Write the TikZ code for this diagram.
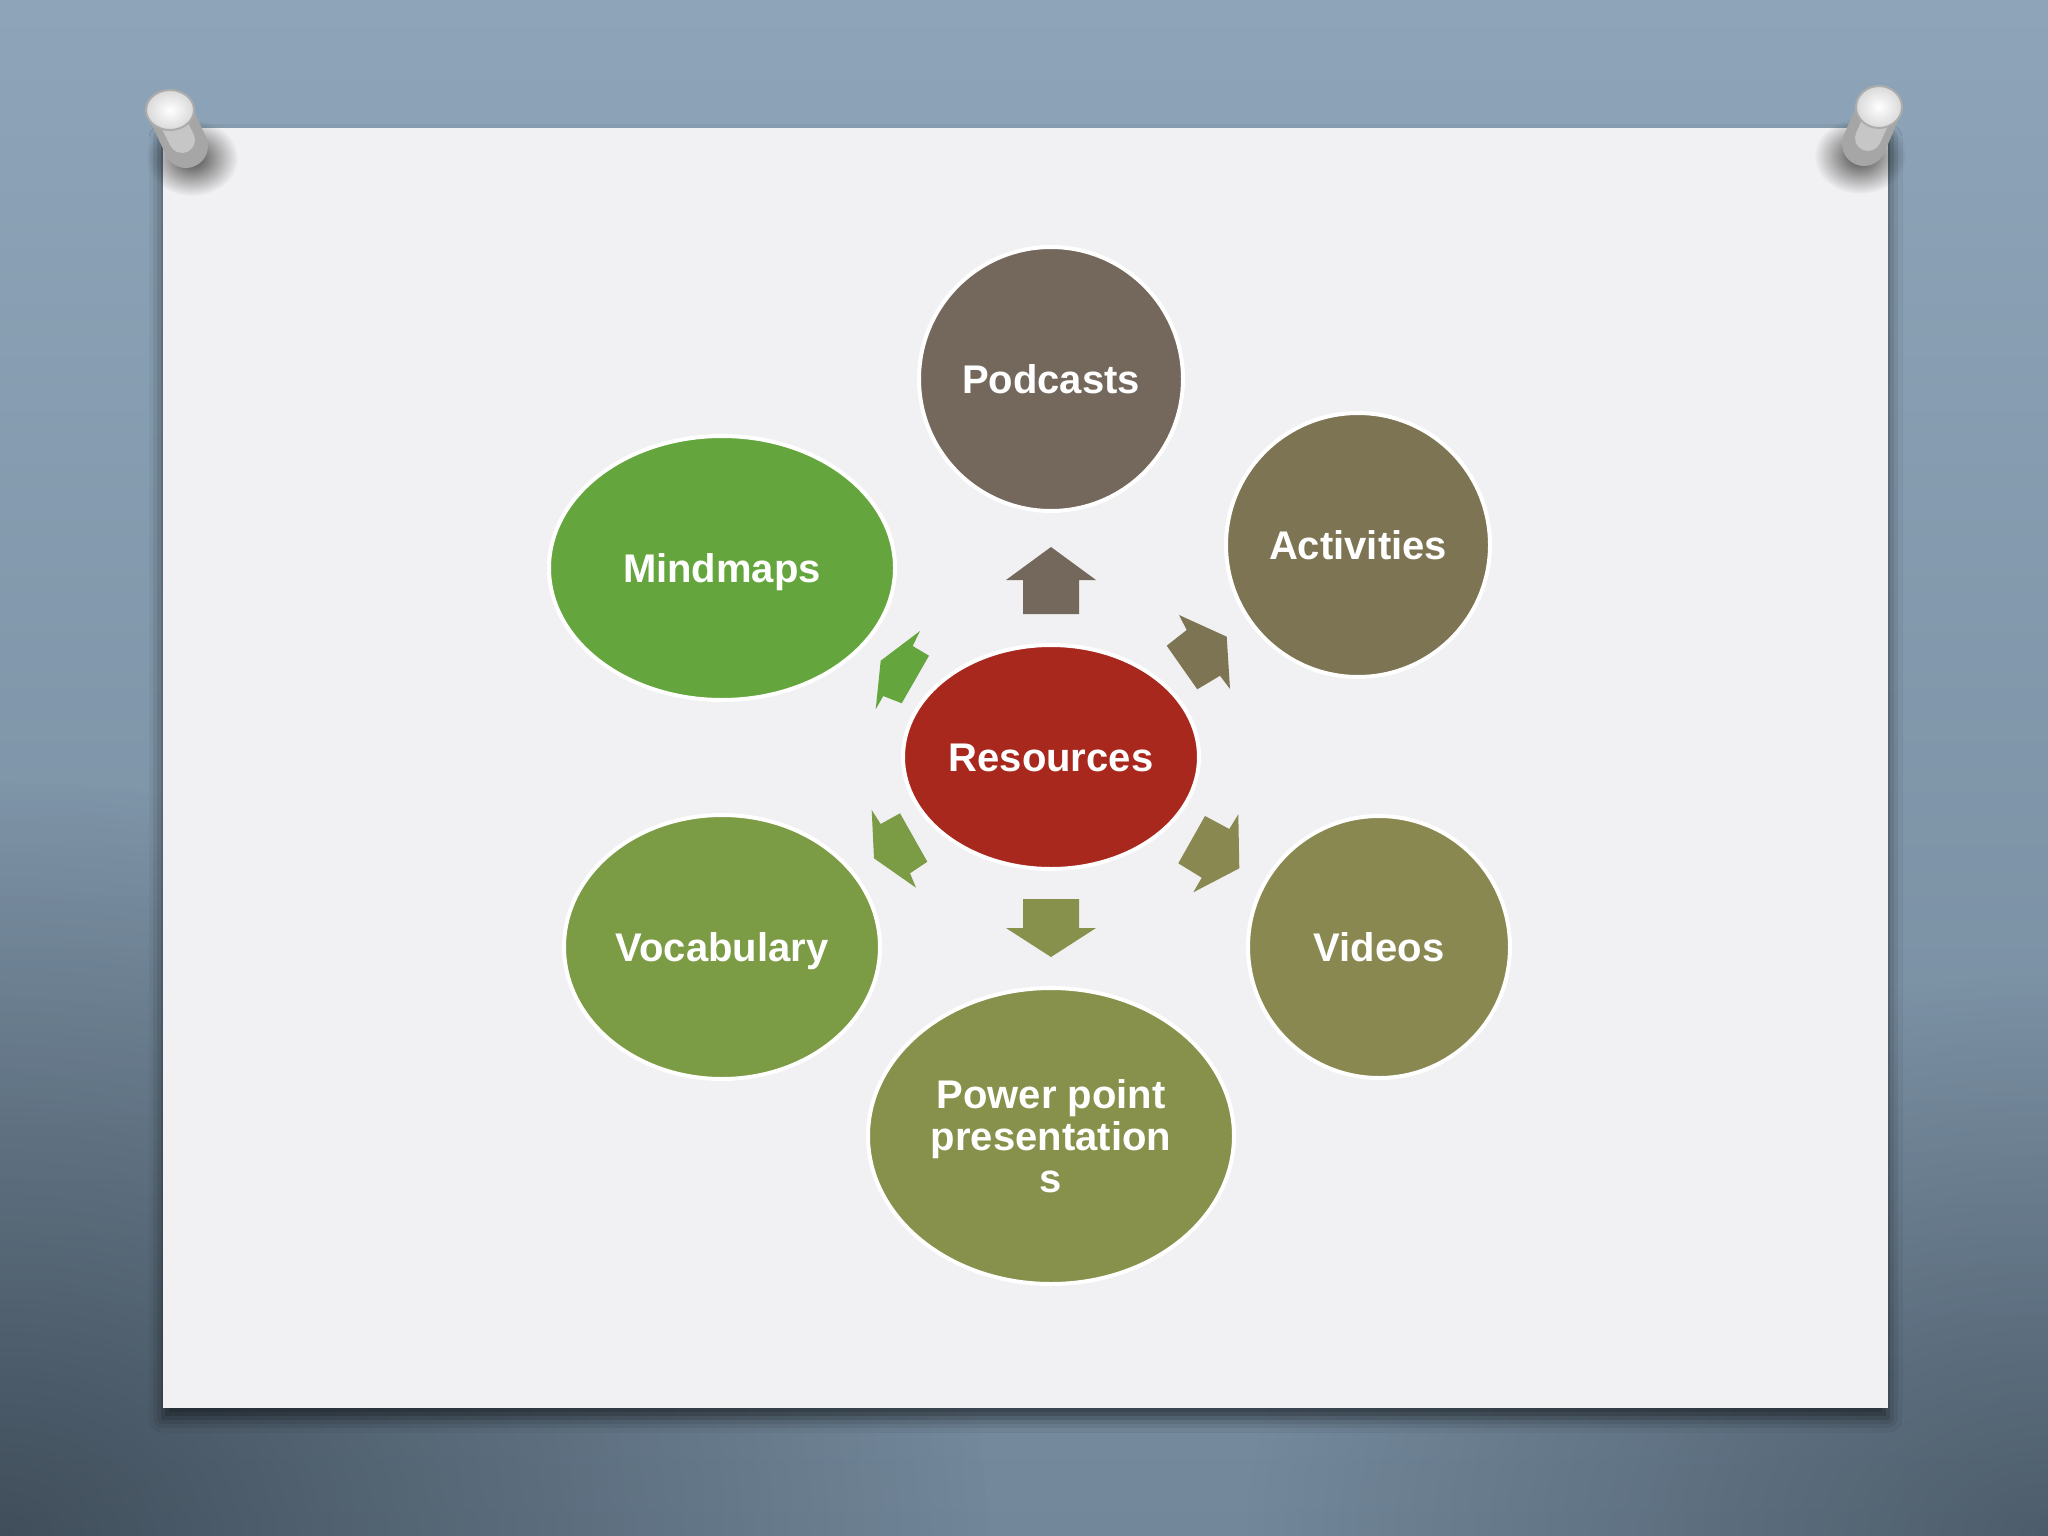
\documentclass[tikz,border=0pt]{standalone}
\usepackage{fontspec}
\setmainfont{Liberation Sans}
\usetikzlibrary{shapes.geometric,shadows.blur,fadings}
\definecolor{bgtop}{HTML}{8EA5B9}
\definecolor{bgbot}{HTML}{72879A}
\definecolor{bgdark}{HTML}{34404B}
\definecolor{paper}{HTML}{F1F0F2}
\definecolor{cres}{HTML}{A9281E}
\definecolor{cpod}{HTML}{74685D}
\definecolor{cact}{HTML}{7C7453}
\definecolor{cvid}{HTML}{898851}
\definecolor{cppt}{HTML}{87914B}
\definecolor{cvoc}{HTML}{7B9B44}
\definecolor{cmind}{HTML}{64A63D}
\tikzfading[name=radfade, inner color=transparent!0, outer color=transparent!100]
\begin{document}
\begin{tikzpicture}[x=1pt,y=-1pt,
  bubble/.style={ellipse, draw=white, line width=4pt, inner sep=0pt,
     text=white, font=\bfseries\fontsize{40}{42}\selectfont, align=center},
  oneline/.style={text height=28.6pt, text depth=0pt}]
\useasboundingbox (0,0) rectangle (2048,1536);
% background
\shade[top color=bgtop, bottom color=bgbot] (0,0) rectangle (2048,1536);
\fill[bgdark, opacity=0.8, path fading=radfade] (0,1536) ellipse [x radius=1000, y radius=760];
\fill[bgdark, opacity=0.6, path fading=radfade] (2048,1536) ellipse [x radius=800, y radius=560];
% paper
\fill[paper, blur shadow={shadow xshift=0pt, shadow yshift=-10pt, shadow blur radius=14pt, shadow opacity=60}] (163,128) rectangle (1888,1408);
% pins
\fill[black, opacity=0.7, path fading=radfade] (192,158) ellipse [x radius=46, y radius=38];
\draw[line width=44pt, line cap=round, color=gray!70] (172,116) -- (186,146);
\draw[line width=26pt, line cap=round, color=gray!45] (170,116) -- (182,140);
\shade[inner color=white, outer color=gray!30] (170,110) ellipse [x radius=24, y radius=20];
\draw[gray!65, line width=2pt] (170,110) ellipse [x radius=24, y radius=20];
\fill[black, opacity=0.7, path fading=radfade] (1860,156) ellipse [x radius=46, y radius=38];
\draw[line width=44pt, line cap=round, color=gray!70] (1877,114) -- (1864,144);
\draw[line width=26pt, line cap=round, color=gray!45] (1879,114) -- (1868,138);
\shade[inner color=white, outer color=gray!30] (1879,107) ellipse [x radius=23, y radius=21];
\draw[gray!65, line width=2pt] (1879,107) ellipse [x radius=23, y radius=21];
% nodes
\node[bubble, oneline, fill=cres, minimum width=296pt, minimum height=224pt] (res) at (1051,757) {Resources};
\node[bubble, oneline, fill=cpod, minimum width=264pt, minimum height=264pt] (pod) at (1051,379) {Podcasts};
\node[bubble, oneline, fill=cact, minimum width=264pt, minimum height=264pt] (act) at (1358,545) {Activities};
\node[bubble, oneline, fill=cvid, minimum width=262pt, minimum height=262pt] (vid) at (1379,947) {Videos};
\node[bubble, fill=cppt, minimum width=366pt, minimum height=296pt] (ppt) at (1051,1136) {Power point\\presentation\\s};
\node[bubble, oneline, fill=cvoc, minimum width=316pt, minimum height=264pt] (voc) at (722,947) {Vocabulary};
\node[bubble, oneline, fill=cmind, minimum width=346pt, minimum height=264pt] (mind) at (722,568) {Mindmaps};
% block arrows
\fill[cpod] (1051,547) -- (1096,580) -- (1079,580) -- (1079,614) -- (1023,614) -- (1023,580) -- (1006,580) -- cycle;
\fill[cppt] (1023,899) -- (1079,899) -- (1079,928) -- (1096,928) -- (1051,957) -- (1006,928) -- (1023,928) -- cycle;
\fill[cact] (1226.7,636.7) -- (1230,689) -- (1220,675.7) -- (1197.3,689.3) -- (1166.7,645.7) -- (1186.7,630) -- (1179,615) -- cycle;
\fill[cvid] (1239.3,868.3) -- (1193.3,892.3) -- (1201.7,877.7) -- (1178.3,863.3) -- (1205,816) -- (1229.3,829) -- (1238.3,814.3) -- cycle;
\fill[cvoc] (874,858.3) -- (871.7,810) -- (880.7,824) -- (900,813.3) -- (927.3,861.7) -- (910,873.3) -- (916,887.7) -- cycle;
\fill[cmind] (880.7,660.7) -- (920,631) -- (912.7,646) -- (929,655.7) -- (901.7,703.3) -- (883.3,696) -- (875.7,709.3) -- cycle;
\end{tikzpicture}
\end{document}
